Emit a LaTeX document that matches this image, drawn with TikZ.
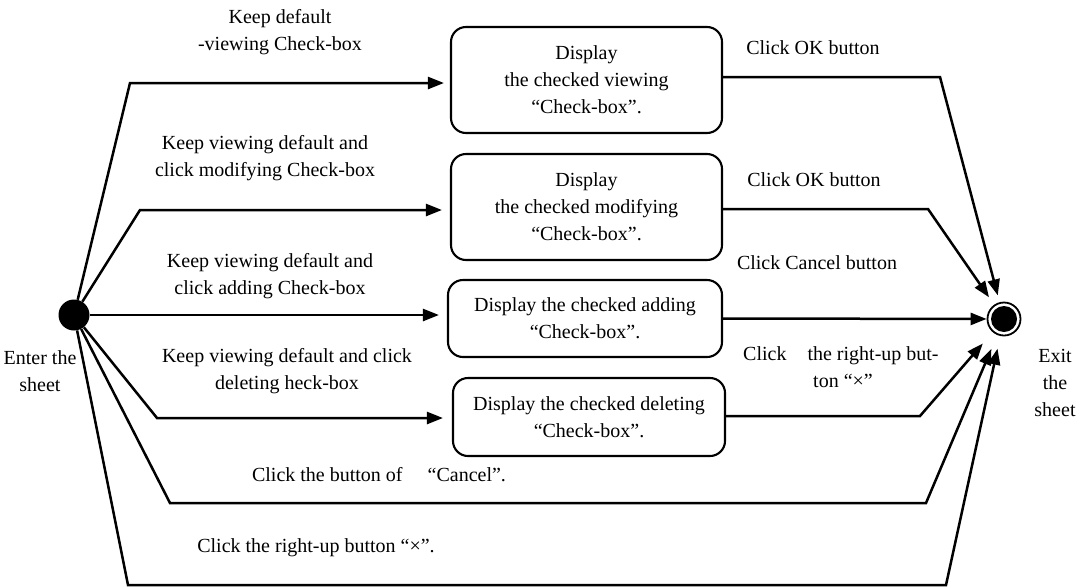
\documentclass[tikz,border=0pt]{standalone}
\usepackage{fontspec}
\setmainfont{Liberation Serif}
\usetikzlibrary{arrows.meta}
\tikzset{
  flow/.style={line width=2.5pt, line join=miter},
  arr/.style={flow, -{Triangle[length=16pt,width=12pt]}},
  statebox/.style={draw, line width=2.1pt, rounded corners=15pt, align=center, inner sep=0pt},
  lbl/.style={align=center, inner sep=0pt, font=\fontsize{20}{27}\selectfont},
}
\begin{document}
\begin{tikzpicture}[x=1pt,y=-1pt,font=\fontsize{20}{27}\selectfont]
\useasboundingbox (0,0) rectangle (1079,587);

% initial and final states
\node[circle, fill, minimum size=31pt, inner sep=0] (start) at (74,315) {};
\node[circle, draw, line width=1.8pt, minimum size=33pt, inner sep=0] (end) at (1004,319) {};
\fill (end.center) circle (13pt);

% state boxes
\node[statebox, minimum width=271pt, minimum height=106pt] (b1) at (586.5,80)
  {Display\\the checked viewing\\“Check-box”.};
\node[statebox, minimum width=271pt, minimum height=106pt] (b2) at (586.5,207)
  {Display\\the checked modifying\\“Check-box”.};
\node[statebox, minimum width=274pt, minimum height=77pt] (b3) at (585,318.5)
  {Display the checked adding\\“Check-box”.};
\node[statebox, minimum width=272pt, minimum height=78pt] (b4) at (589,417)
  {Display the checked deleting\\“Check-box”.};

% bend points
\coordinate (c1) at (130,83);
\coordinate (c2) at (140,210);
\coordinate (c4) at (157,418);
\coordinate (c5) at (170,503);
\coordinate (c6) at (128,585);
\coordinate (e1) at (940,77);
\coordinate (e2) at (928,209);
\coordinate (e4) at (920,416);
\coordinate (e5) at (926,503);
\coordinate (e6) at (946,585);

% transitions out of the initial state
\draw[arr, shorten >=6pt] (start) -- (c1) -- (c1 -| b1.west);
\draw[arr, shorten >=8pt] (start) -- (c2) -- (c2 -| b2.west);
\draw[arr, shorten >=8pt] (start) -- (start -| b3.west);
\draw[arr, shorten >=9pt] (start) -- (c4) -- (c4 -| b4.west);

% transitions into the final state
\draw[arr, shorten >=7pt] (e1 -| b1.east) -- (e1) -- (end);
\draw[arr, shorten >=9pt] (e2 -| b2.east) -- (e2) -- (end);
\draw[arr] (b3.east) -- (end);
\draw[arr, shorten >=15pt] (e4 -| b4.east) -- (e4) -- (end);
\draw[arr, shorten >=15pt] (start) -- (c5) -- (e5) -- (end);
\draw[arr, shorten >=13pt] (start) -- (c6) -- (e6) -- (end);

% transition labels
\node[lbl] (t1) at (280,32) {Keep default\\-viewing Check-box};
\node[lbl] (t2) at (265,158) {Keep viewing default and\\click modifying Check-box};
\node[lbl] (t3) at (270,276) {Keep viewing default and\\click adding Check-box};
\node[lbl] (t4) at (287,371) {Keep viewing default and click\\deleting heck-box};
\node[lbl] (t5) at (379,475) {Click the button of \quad“Cancel”.};
\node[lbl] (t6) at (316,548) {Click the right-up button “×”.};
\node[lbl] (o1) at (813,48) {Click OK button};
\node[lbl] (o2) at (814,180) {Click OK button};
\node[lbl] (o3) at (817,263) {Click Cancel button};
\node[lbl, align=left, anchor=west] (o4) at (743,367) {Click\hspace*{21pt}the right-up but-\\\hspace*{70pt}ton “×”};

% state labels
\node[lbl] (enter) at (40,371) {Enter the\\sheet};
\node[lbl] (exit) at (1055,383) {Exit\\the\\sheet};
\end{tikzpicture}
\end{document}
